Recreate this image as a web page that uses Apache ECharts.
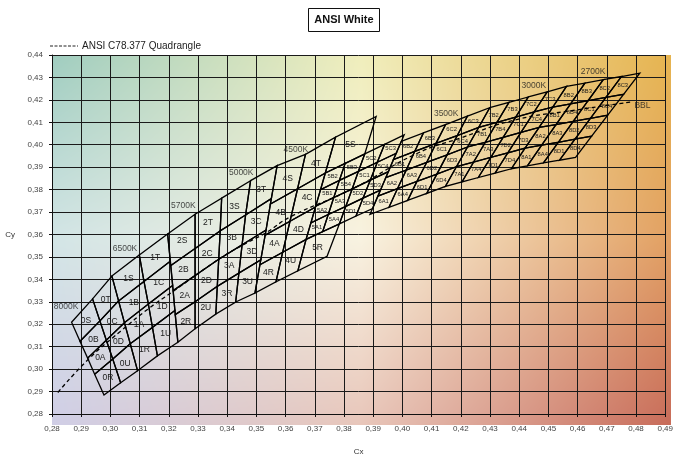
<!DOCTYPE html>
<html>
<head>
<meta charset="utf-8">
<script src="https://cdn.jsdelivr.net/npm/echarts@6/dist/echarts.min.js"></script>
<style>
  html, body { margin: 0; padding: 0; background: #fff; }
  #chart { width: 676px; height: 461px; }
</style>
</head>
<body>
<div id="chart"></div>
<script>
// axis ranges (Cx, Cy)
const xRange = [0.28, 0.49]
const yRange = [0.28, 0.44]
const step = 0.01

// cool white bands: 3 iso-CCT lines (left, middle, right), each 5 points
// top of S/T -> top of quadrangle -> centre -> bottom of quadrangle -> bottom of R/U
const band8000 = [
    [[0.2867, 0.3209], [0.2896, 0.3124], [0.2922, 0.3049], [0.2946, 0.2977], [0.2978, 0.2885]],
    [[0.2939, 0.3313], [0.2964, 0.3215], [0.2986, 0.3129], [0.3008, 0.3045], [0.3035, 0.2939]],
    [[0.3005, 0.3415], [0.3028, 0.3304], [0.3048, 0.3207], [0.3068, 0.3113], [0.3093, 0.2993]]
]
const band6500 = [
    [[0.3005, 0.3415], [0.3028, 0.3304], [0.3048, 0.3207], [0.3068, 0.3113], [0.3093, 0.2993]],
    [[0.3099, 0.3509], [0.3115, 0.3391], [0.3130, 0.3290], [0.3144, 0.3186], [0.3161, 0.3059]],
    [[0.3196, 0.3602], [0.3205, 0.3481], [0.3213, 0.3373], [0.3221, 0.3261], [0.3231, 0.3120]]
]
const band5700 = [
    [[0.3196, 0.3602], [0.3207, 0.3462], [0.3215, 0.3350], [0.3222, 0.3243], [0.3231, 0.3120]],
    [[0.3290, 0.3690], [0.3290, 0.3538], [0.3290, 0.3417], [0.3290, 0.3300], [0.3290, 0.3180]],
    [[0.3381, 0.3762], [0.3376, 0.3616], [0.3371, 0.3490], [0.3366, 0.3369], [0.3361, 0.3245]]
]
const band5000 = [
    [[0.3381, 0.3762], [0.3376, 0.3616], [0.3371, 0.3490], [0.3366, 0.3369], [0.3361, 0.3245]],
    [[0.3480, 0.3840], [0.3463, 0.3687], [0.3451, 0.3554], [0.3440, 0.3428], [0.3429, 0.3299]],
    [[0.3571, 0.3907], [0.3551, 0.3760], [0.3533, 0.3620], [0.3515, 0.3487], [0.3495, 0.3339]]
]
const band4500 = [
    [[0.3571, 0.3907], [0.3548, 0.3736], [0.3530, 0.3597], [0.3512, 0.3465], [0.3495, 0.3339]],
    [[0.3668, 0.3957], [0.3641, 0.3804], [0.3615, 0.3659], [0.3590, 0.3521], [0.3567, 0.3389]],
    [[0.3771, 0.4034], [0.3736, 0.3874], [0.3702, 0.3722], [0.3670, 0.3578], [0.3642, 0.3438]]
]
const coolBands = [['0', band8000], ['1', band6500], ['2', band5700], ['3', band5000], ['4', band4500]]
const coolNames = [['S', 'T'], ['B', 'C'], ['A', 'D'], ['R', 'U']]

// warm white quadrangles: 5 iso-CCT lines x 5 rows (4x4 sub bins)
const band4000 = [
    [[0.3736, 0.3874], [0.3720, 0.3800], [0.3703, 0.3726], [0.3687, 0.3652], [0.3670, 0.3578]],
    [[0.3804, 0.3917], [0.3784, 0.3841], [0.3765, 0.3765], [0.3746, 0.3689], [0.3727, 0.3613]],
    [[0.3871, 0.3959], [0.3849, 0.3881], [0.3828, 0.3803], [0.3806, 0.3725], [0.3784, 0.3647]],
    [[0.3939, 0.4002], [0.3914, 0.3922], [0.3890, 0.3842], [0.3865, 0.3762], [0.3841, 0.3682]],
    [[0.4006, 0.4044], [0.3979, 0.3962], [0.3952, 0.3880], [0.3925, 0.3798], [0.3898, 0.3716]]
]
const band3500 = [
    [[0.3996, 0.4015], [0.3969, 0.3934], [0.3943, 0.3853], [0.3916, 0.3771], [0.3889, 0.3690]],
    [[0.4072, 0.4053], [0.4042, 0.3970], [0.4013, 0.3887], [0.3983, 0.3804], [0.3954, 0.3721]],
    [[0.4148, 0.4090], [0.4115, 0.4006], [0.4083, 0.3921], [0.4050, 0.3837], [0.4018, 0.3752]],
    [[0.4223, 0.4128], [0.4188, 0.4041], [0.4153, 0.3955], [0.4118, 0.3869], [0.4083, 0.3783]],
    [[0.4299, 0.4165], [0.4261, 0.4077], [0.4223, 0.3990], [0.4185, 0.3902], [0.4147, 0.3814]]
]
const band3000 = [
    [[0.4299, 0.4165], [0.4261, 0.4077], [0.4223, 0.3990], [0.4185, 0.3902], [0.4147, 0.3814]],
    [[0.4365, 0.4189], [0.4324, 0.4100], [0.4284, 0.4011], [0.4244, 0.3923], [0.4204, 0.3834]],
    [[0.4431, 0.4213], [0.4388, 0.4123], [0.4345, 0.4033], [0.4303, 0.3944], [0.4260, 0.3854]],
    [[0.4496, 0.4236], [0.4451, 0.4146], [0.4406, 0.4055], [0.4361, 0.3964], [0.4317, 0.3873]],
    [[0.4562, 0.4260], [0.4515, 0.4168], [0.4468, 0.4077], [0.4420, 0.3985], [0.4373, 0.3893]]
]
const band2700 = [
    [[0.4562, 0.4260], [0.4515, 0.4168], [0.4468, 0.4077], [0.4420, 0.3985], [0.4373, 0.3893]],
    [[0.4625, 0.4275], [0.4576, 0.4182], [0.4526, 0.4090], [0.4477, 0.3998], [0.4428, 0.3906]],
    [[0.4688, 0.4290], [0.4636, 0.4197], [0.4585, 0.4104], [0.4534, 0.4011], [0.4483, 0.3919]],
    [[0.4750, 0.4304], [0.4697, 0.4211], [0.4644, 0.4118], [0.4591, 0.4025], [0.4538, 0.3931]],
    [[0.4813, 0.4319], [0.4758, 0.4225], [0.4703, 0.4132], [0.4648, 0.4038], [0.4593, 0.3944]]
]
const warmBands = [['5', band4000], ['6', band3500], ['7', band3000], ['8', band2700]]
const warmNames = [
    ['B2', 'B3', 'C2', 'C3'],
    ['B1', 'B4', 'C1', 'C4'],
    ['A2', 'A3', 'D2', 'D3'],
    ['A1', 'A4', 'D1', 'D4']
]

// extra 4000K bins above and below the quadrangle
const bin5S = [[0.3736, 0.3874], [0.3771, 0.4034], [0.3910, 0.4126], [0.3871, 0.3959]]
const bin5R = [[0.3670, 0.3578], [0.3784, 0.3647], [0.3742, 0.3503], [0.3642, 0.3438]]

// dashed locus
const locus = [
    [0.2820, 0.2896], [0.2927, 0.3047], [0.3035, 0.3169], [0.3131, 0.3270], [0.3210, 0.3342],
    [0.3375, 0.3493], [0.3459, 0.3557], [0.3533, 0.3608], [0.3618, 0.3680], [0.3828, 0.3803],
    [0.4048, 0.3960], [0.4201, 0.4031], [0.4387, 0.4111], [0.4591, 0.4154], [0.4784, 0.4191]
]

const cctLabels = [
    ['8000K', 0.2848, 0.3277], ['6500K', 0.3050, 0.3536], ['5700K', 0.3250, 0.3727],
    ['5000K', 0.3448, 0.3874], ['4500K', 0.3635, 0.3977], ['3500K', 0.4150, 0.4140],
    ['3000K', 0.4450, 0.4262], ['2700K', 0.4653, 0.4327], ['BBL', 0.4822, 0.4176]
]

// build bin polygons
let bins = []
coolBands.forEach(([d, cols]) => {
    for (let r = 0; r < 4; r++) {
        for (let c = 0; c < 2; c++) {
            bins.push({name: d + coolNames[r][c], small: false,
                pts: [cols[c][r], cols[c + 1][r], cols[c + 1][r + 1], cols[c][r + 1]]})
        }
    }
})
warmBands.forEach(([d, cols]) => {
    for (let r = 0; r < 4; r++) {
        for (let c = 0; c < 4; c++) {
            bins.push({name: d + warmNames[r][c], small: true,
                pts: [cols[c][r], cols[c + 1][r], cols[c + 1][r + 1], cols[c][r + 1]]})
        }
    }
})
bins.push({name: '5S', small: false, pts: bin5S})
bins.push({name: '5R', small: false, pts: bin5R})
bins.forEach(b => {
    b.cx = b.pts.reduce((s, p) => s + p[0], 0) / 4
    b.cy = b.pts.reduce((s, p) => s + p[1], 0) / 4
})

// background colour field (top / middle / bottom rows, left / middle / right)
const bgColors = [
    [[160, 205, 192], [240, 238, 188], [230, 180, 80]],
    [[211, 229, 230], [248, 242, 224], [226, 160, 98]],
    [[208, 206, 230], [232, 198, 186], [200, 108, 90]]
]
function makeBg (w, h) {
    const cv = document.createElement('canvas')
    cv.width = w
    cv.height = h
    const ctx = cv.getContext('2d')
    const img = ctx.createImageData(w, h)
    for (let y = 0; y < h; y++) {
        const v = y / (h - 1) * 2
        const j = Math.min(1, Math.floor(v))
        const fv = v - j
        for (let x = 0; x < w; x++) {
            const u = x / (w - 1) * 2
            const i = Math.min(1, Math.floor(u))
            const fu = u - i
            const k = (y * w + x) * 4
            for (let ch = 0; ch < 3; ch++) {
                const a = bgColors[j][i][ch] * (1 - fu) + bgColors[j][i + 1][ch] * fu
                const b = bgColors[j + 1][i][ch] * (1 - fu) + bgColors[j + 1][i + 1][ch] * fu
                img.data[k + ch] = a * (1 - fv) + b * fv
            }
            img.data[k + 3] = 255
        }
    }
    ctx.putImageData(img, 0, 0)
    return cv
}

const G = {left: 52, top: 55, width: 619, height: 370}
const font = 'Liberation Sans, Arial, sans-serif'
const fmt = v => v.toFixed(2).replace('.', ',')

let myChart = echarts.init(document.getElementById('chart'))
myChart.setOption({
    animation: false,
    grid: {left: G.left, top: G.top, width: G.width, height: G.height},
    xAxis: {
        type: 'value', min: xRange[0], max: xRange[1], interval: step,
        name: 'Cx', nameLocation: 'middle', nameGap: 34,
        nameTextStyle: {color: '#333', fontSize: 8, fontFamily: font},
        axisLine: {show: true, lineStyle: {color: '#111', width: 1}},
        axisTick: {show: true, length: 3, lineStyle: {color: '#111'}},
        axisLabel: {color: '#444', fontSize: 8, fontFamily: font, margin: 11, formatter: fmt},
        splitLine: {show: true, lineStyle: {color: '#1a1a1a', width: 1}}
    },
    yAxis: {
        type: 'value', min: yRange[0], max: yRange[1], interval: step,
        name: 'Cy', nameLocation: 'middle', nameGap: 37, nameRotate: 0,
        nameTextStyle: {color: '#333', fontSize: 8, fontFamily: font},
        axisLine: {show: true, lineStyle: {color: '#111', width: 1}},
        axisTick: {show: true, length: 3, lineStyle: {color: '#111'}},
        axisLabel: {color: '#444', fontSize: 8, fontFamily: font, margin: 9, formatter: fmt},
        splitLine: {show: true, lineStyle: {color: '#1a1a1a', width: 1}}
    },
    graphic: [
        {type: 'image', left: G.left, top: G.top, z: -10, silent: true,
            style: {image: makeBg(G.width, G.height), width: G.width, height: G.height}},
        {type: 'rect', shape: {x: 308.5, y: 8.5, width: 71, height: 23},
            style: {fill: '#fff', stroke: '#111', lineWidth: 1}},
        {type: 'text', x: 344, y: 20,
            style: {text: 'ANSI White', fill: '#111', font: 'bold 11px ' + font, align: 'center', verticalAlign: 'middle'}},
        {type: 'line', shape: {x1: 50, y1: 46, x2: 78, y2: 46},
            style: {stroke: '#222', lineWidth: 1, lineDash: [3, 1.5]}},
        {type: 'text', x: 82, y: 46,
            style: {text: 'ANSI C78.377 Quadrangle', fill: '#222', font: '10px ' + font, verticalAlign: 'middle'}}
    ],
    series: [
        {
            type: 'custom',
            renderItem: function (params, api) {
                const b = bins[api.value(2)]
                const pts = b.pts.map(p => api.coord(p))
                const c = api.coord([b.cx, b.cy])
                return {
                    type: 'group',
                    children: [
                        {type: 'polygon', shape: {points: pts},
                            style: {fill: 'none', stroke: '#000', lineWidth: 1.3}},
                        {type: 'text', x: c[0], y: c[1],
                            style: {text: b.name, fill: '#1a1a1a', fontFamily: font,
                                fontSize: b.small ? 5.8 : 8.5, align: 'center', verticalAlign: 'middle'}}
                    ]
                }
            },
            data: bins.map((b, i) => [b.cx, b.cy, i]),
            z: 3
        },
        {
            type: 'line',
            data: locus,
            symbol: 'none',
            smooth: true,
            lineStyle: {color: '#000', width: 1.3, type: [4, 3]},
            z: 4
        },
        {
            type: 'scatter',
            data: cctLabels.map(l => ({name: l[0], value: [l[1], l[2]]})),
            symbolSize: 0,
            label: {show: true, position: 'inside', formatter: '{b}', color: '#1a1a1a',
                fontFamily: font, fontSize: 8.5},
            z: 5
        }
    ]
})
</script>
</body>
</html>
